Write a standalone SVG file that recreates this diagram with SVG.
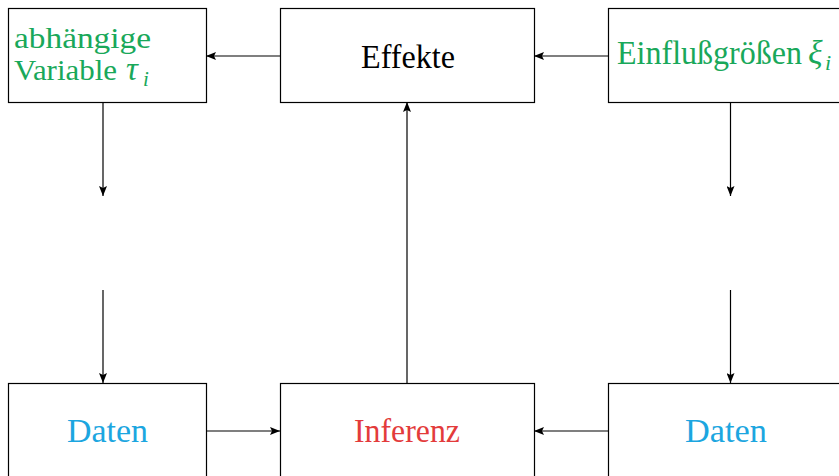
<svg xmlns="http://www.w3.org/2000/svg" width="839" height="476" viewBox="0 0 839 476">
<style>
.box{fill:#fff;stroke:#000;stroke-width:1.2}
.ln{fill:none;stroke:#000;stroke-width:1.2}
.t{font-size:34px}
.g{fill:#19a85a}.b{fill:#1ca6e0}.r{fill:#e33b3b}.k{fill:#000}
.m{font-style:italic}
</style>
<defs>
<marker id="ah" viewBox="0 0 10 8" refX="10" refY="4" markerWidth="10" markerHeight="8" markerUnits="userSpaceOnUse" orient="auto">
<path d="M0,0 L10,4 L0,8 L2,4 Z" fill="#000"/>
</marker>
</defs>
<rect width="839" height="476" fill="#fff"/>
<g id="connectors">
<line class="ln" x1="280" y1="56" x2="206" y2="56" marker-end="url(#ah)"/>
<line class="ln" x1="608" y1="56" x2="534" y2="56" marker-end="url(#ah)"/>
<line class="ln" x1="103" y1="102" x2="103" y2="196" marker-end="url(#ah)"/>
<line class="ln" x1="103" y1="290" x2="103" y2="383" marker-end="url(#ah)"/>
<line class="ln" x1="730.5" y1="102" x2="730.5" y2="196" marker-end="url(#ah)"/>
<line class="ln" x1="730.5" y1="290" x2="730.5" y2="383" marker-end="url(#ah)"/>
<line class="ln" x1="206" y1="431" x2="280" y2="431" marker-end="url(#ah)"/>
<line class="ln" x1="608" y1="431" x2="534" y2="431" marker-end="url(#ah)"/>
<line class="ln" x1="407" y1="383" x2="407" y2="102" marker-end="url(#ah)"/>
</g>
<g id="abhaengige" font-family="'Liberation Serif', 'DejaVu Serif', serif">
<rect class="box" x="8.5" y="8.5" width="198" height="94"/>
<text class="g" x="14" y="48" font-size="30" textLength="137" lengthAdjust="spacingAndGlyphs">abhängige</text>
<text class="g" x="14" y="80" font-size="30"><tspan textLength="103" lengthAdjust="spacingAndGlyphs">Variable</tspan><tspan class="m" x="126" font-size="33">τ</tspan><tspan class="m" x="143" dy="6" font-size="21">i</tspan></text>
</g>
<g id="effekte" font-family="'Liberation Serif', 'DejaVu Serif', serif">
<rect class="box" x="280.5" y="8.5" width="254" height="94"/>
<text class="t k" x="361" y="67.5" textLength="94" lengthAdjust="spacingAndGlyphs">Effekte</text>
</g>
<g id="einfluss" font-family="'Liberation Serif', 'DejaVu Serif', serif">
<rect class="box" x="608.5" y="8.5" width="240" height="94"/>
<text class="g" x="617" y="63.5" font-size="33"><tspan textLength="185" lengthAdjust="spacingAndGlyphs">Einflußgrößen</tspan><tspan class="m" x="808" font-size="34">ξ</tspan><tspan class="m" x="825" dy="6" font-size="22">i</tspan></text>
</g>
<g id="daten-links" font-family="'Liberation Serif', 'DejaVu Serif', serif">
<rect class="box" x="8.5" y="383.5" width="198" height="100"/>
<text class="t b" x="67" y="442" textLength="81" lengthAdjust="spacingAndGlyphs">Daten</text>
</g>
<g id="inferenz" font-family="'Liberation Serif', 'DejaVu Serif', serif">
<rect class="box" x="280.5" y="383.5" width="254" height="100"/>
<text class="t r" x="354" y="442" textLength="106" lengthAdjust="spacingAndGlyphs">Inferenz</text>
</g>
<g id="daten-rechts" font-family="'Liberation Serif', 'DejaVu Serif', serif">
<rect class="box" x="608.5" y="383.5" width="240" height="100"/>
<text class="t b" x="685" y="442" textLength="82" lengthAdjust="spacingAndGlyphs">Daten</text>
</g>
</svg>
